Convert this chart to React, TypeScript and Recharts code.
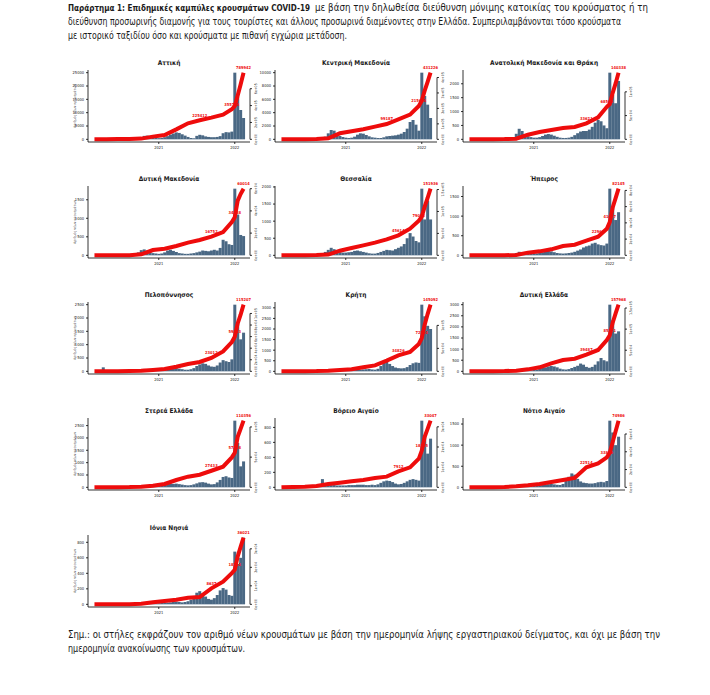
import React from "react";
import {
  ComposedChart, Bar, Line, XAxis, YAxis, LabelList,
} from "recharts";

// Fortnightly bins from 24 Feb 2020 to Feb 2022 (52 bins). Bar value = daily new cases
// for that fortnight; the red curve is the cumulative count,
// read at the bins listed in LINE_IDX.

const YEAR_TICKS = [22, 48];
const YEAR_LABELS: Record<number, string> = { 22: "2021", 48: "2022" };
const LINE_IDX = [0, 4, 8, 12, 16, 20, 24, 28, 32, 36, 40, 44, 47, 48, 49, 50, 51];

const BARS_ATTIKI = [0, 5, 25, 15, 8, 4, 3, 3, 5, 10, 25, 50, 100, 180,
  300, 450, 800, 1300, 1400, 900, 650, 500,
  450, 550, 800, 1200, 1800, 2200,
  2600, 2400, 1900, 1400, 900, 500,
  400, 1300, 1700, 1500, 1100, 900,
  800, 800, 900, 1200, 2300, 2700, 2600, 2900,
  25000, 16000, 11000, 8000];
const CUM_ATTIKI = [0, 1200, 3100, 4600, 8500, 32000, 51000, 118000, 190000, 225412, 257000, 292000, 355764, 395000, 520000, 650000, 789942];

const BARS_KMAK = [0, 2, 10, 8, 4, 2, 2, 3, 5, 8, 15, 30, 60, 110,
  200, 400, 900, 1400, 1300, 800, 500, 350,
  250, 200, 250, 400, 700, 900,
  850, 650, 450, 300, 250, 200,
  200, 300, 450, 500, 550, 600,
  700, 850, 1100, 1600, 2600, 2900, 2200, 1300,
  10000, 6500, 5200, 3200];
const CUM_KMAK = [0, 400, 900, 1700, 6500, 39000, 52000, 65000, 82000, 99187, 129000, 160000, 215604, 250000, 315000, 371000, 431226];

const BARS_AMTH = [0, 1, 3, 2, 1, 1, 1, 1, 2, 3, 5, 8, 15, 25,
  40, 80, 200, 380, 300, 180, 110, 80,
  60, 60, 80, 120, 170, 190,
  170, 130, 90, 60, 50, 50,
  60, 90, 150, 220, 280, 300,
  300, 350, 450, 600, 700, 650, 500, 400,
  2400, 1600, 1300, 2100];
const CUM_AMTH = [0, 140, 280, 560, 1400, 9800, 15400, 19600, 23800, 25900, 33621, 46200, 68540, 74200, 98000, 117600, 140338];

const BARS_DMAK = [0, 0, 2, 2, 1, 1, 0, 1, 1, 2, 3, 5, 10, 20,
  40, 80, 140, 160, 130, 90, 60, 50,
  40, 50, 80, 130, 150, 120,
  90, 60, 50, 40, 40, 50,
  60, 80, 100, 130, 120, 110,
  130, 150, 130, 200, 420, 380, 300, 280,
  1800, 1100, 550, 520];
const CUM_DMAK = [0, 60, 120, 180, 900, 4800, 6000, 8400, 11400, 13800, 16752, 21000, 30000, 34288, 49200, 55200, 60014];

const BARS_THES = [0, 1, 3, 2, 1, 1, 1, 1, 2, 4, 6, 10, 20, 35,
  60, 100, 160, 220, 180, 120, 90, 80,
  80, 90, 100, 130, 140, 120,
  100, 80, 60, 50, 50, 70,
  100, 130, 160, 150, 140, 180,
  220, 260, 330, 500, 650, 550, 420, 380,
  1950, 1050, 1600, 1050];
const CUM_THES = [0, 150, 300, 600, 1800, 10600, 16700, 22800, 28900, 36500, 45614, 60800, 79063, 88200, 111000, 130700, 151936];

const BARS_IPEI = [0, 0, 1, 1, 0, 0, 0, 0, 1, 2, 3, 5, 8, 12,
  20, 35, 60, 90, 80, 60, 50, 45,
  45, 50, 60, 80, 100, 110,
  100, 80, 60, 50, 45, 50,
  60, 70, 90, 120, 150, 200,
  230, 250, 300, 320, 280, 260, 250, 300,
  1700, 1250, 900, 1100];
const CUM_IPEI = [0, 0, 80, 160, 410, 3300, 4900, 7400, 11500, 13100, 18000, 22961, 32800, 41027, 59000, 70500, 82145];

const BARS_PELO = [0, 10, 40, 150, 20, 10, 5, 5, 8, 10, 15, 20, 25, 35,
  45, 60, 80, 90, 80, 70, 70, 80,
  90, 100, 120, 140, 150, 130,
  120, 100, 80, 60, 60, 80,
  120, 200, 260, 300, 280, 220,
  180, 170, 220, 330, 420, 380, 350, 450,
  2500, 1800, 1200, 1450];
const CUM_PELO = [0, 120, 350, 460, 920, 2300, 4000, 8000, 12700, 16100, 23012, 34500, 50600, 59843, 82800, 97800, 115207];

const BARS_KRIT = [0, 1, 3, 2, 1, 1, 0, 1, 2, 3, 5, 10, 15, 20,
  25, 30, 40, 50, 50, 45, 40, 40,
  40, 45, 50, 60, 70, 80,
  90, 100, 110, 90, 80, 120,
  250, 400, 450, 350, 250, 180,
  150, 140, 150, 200, 300, 380, 420, 400,
  3150, 2600, 2150, 2000];
const CUM_KRIT = [0, 150, 290, 580, 1450, 2900, 4350, 8700, 13000, 23200, 34826, 42000, 59500, 72514, 101500, 124700, 145092];

const BARS_DELL = [0, 1, 4, 3, 1, 1, 1, 1, 2, 3, 5, 8, 12, 18,
  30, 45, 70, 90, 80, 60, 50, 50,
  60, 80, 110, 150, 180, 220,
  240, 220, 180, 120, 90, 80,
  100, 150, 200, 250, 350, 300,
  200, 160, 200, 300, 450, 600, 500, 450,
  3000, 2300, 1700, 1800];
const CUM_DELL = [0, 160, 320, 630, 1600, 4700, 9500, 19000, 26900, 30000, 39487, 50600, 74300, 85371, 115300, 137500, 157968];

const BARS_STER = [0, 1, 3, 2, 1, 1, 1, 1, 2, 3, 5, 8, 12, 20,
  30, 40, 50, 60, 60, 50, 50, 60,
  80, 110, 140, 160, 150, 140,
  150, 130, 110, 90, 80, 90,
  120, 160, 200, 210, 190, 150,
  120, 130, 200, 300, 420, 450, 400, 380,
  2700, 1800, 850, 1050];
const CUM_STER = [0, 110, 220, 440, 1100, 2750, 5500, 12100, 17600, 20900, 27433, 34100, 49500, 57218, 83600, 96800, 110356];

const BARS_VAIG = [0, 1, 2, 2, 1, 1, 1, 2, 3, 4, 5, 8, 10, 15,
  110, 40, 30, 30, 30, 25, 25, 25,
  25, 30, 30, 30, 35, 35,
  35, 30, 30, 35, 30, 40,
  60, 80, 90, 85, 70, 50,
  40, 45, 60, 80, 100, 110, 100, 90,
  890, 700, 450, 650];
const CUM_VAIG = [0, 160, 330, 660, 1650, 2300, 3000, 3600, 4600, 5300, 7912, 9900, 14200, 18165, 25100, 29000, 33047];

const BARS_NAIG = [0, 2, 3, 2, 1, 1, 1, 2, 4, 6, 10, 15, 20, 25,
  30, 35, 40, 50, 45, 40, 35, 35,
  35, 40, 45, 55, 65, 75,
  80, 70, 60, 55, 80, 150,
  250, 330, 300, 200, 140, 110,
  100, 90, 90, 100, 120, 130, 120, 150,
  1580, 1300, 1000, 1200];
const CUM_NAIG = [0, 75, 225, 450, 1100, 2250, 3750, 6000, 8250, 10500, 22514, 27000, 33809, 39000, 51000, 63000, 74986];

const BARS_IONI = [0, 0, 1, 1, 0, 0, 0, 0, 1, 2, 3, 5, 6, 8,
  10, 12, 15, 20, 20, 18, 16, 15,
  15, 18, 20, 22, 25, 30,
  35, 30, 25, 30, 40, 60,
  100, 150, 170, 140, 100, 70,
  60, 80, 120, 180, 210, 190, 120, 110,
  680, 520, 600, 860];
const CUM_IONI = [0, 0, 40, 110, 360, 1080, 1800, 2500, 3600, 3950, 8637, 12200, 16900, 18714, 25900, 31000, 36021];

const L_25K = [0, 5000, 10000, 15000, 20000, 25000];
const L_10K = [0, 2000, 4000, 6000, 8000, 10000];
const L_3000 = [0, 500, 1000, 1500, 2000, 2500, 3000];
const L_2500 = [0, 500, 1000, 1500, 2000, 2500];
const L_2000 = [0, 500, 1000, 1500, 2000];
const L_1500 = [0, 500, 1000, 1500];
const L_800 = [0, 200, 400, 600, 800];

const R_ATTIKI = [0, 200000, 400000, 600000];
const R_KMAK = [0, 100000, 200000, 300000, 400000];
const R_100K = [0, 50000, 100000];
const R_150K = [0, 50000, 100000, 150000];
const R_60K = [0, 20000, 40000, 60000];
const R_80K = [0, 20000, 40000, 60000, 80000];
const R_PELO = [0, 20000, 40000, 60000, 80000, 100000];
const R_30K = [0, 10000, 20000, 30000];

const PANELS = [
  { title: "Αττική", bars: BARS_ATTIKI, cum: CUM_ATTIKI, left: L_25K, right: R_ATTIKI, marks: [36, 47, 51] },
  { title: "Κεντρική Μακεδονία", bars: BARS_KMAK, cum: CUM_KMAK, left: L_10K, right: R_KMAK, marks: [36, 47, 51] },
  { title: "Ανατολική Μακεδονία και Θράκη", bars: BARS_AMTH, cum: CUM_AMTH, left: L_2000, right: R_100K, marks: [40, 47, 51] },
  { title: "Δυτική Μακεδονία", bars: BARS_DMAK, cum: CUM_DMAK, left: L_1500, right: R_60K, marks: [40, 48, 51] },
  { title: "Θεσσαλία", bars: BARS_THES, cum: CUM_THES, left: L_2000, right: R_150K, marks: [40, 47, 51] },
  { title: "Ήπειρος", bars: BARS_IPEI, cum: CUM_IPEI, left: L_1500, right: R_80K, marks: [44, 48, 51] },
  { title: "Πελοπόννησος", bars: BARS_PELO, cum: CUM_PELO, left: L_2500, right: R_PELO, marks: [40, 48, 51] },
  { title: "Κρήτη", bars: BARS_KRIT, cum: CUM_KRIT, left: L_3000, right: R_100K, marks: [40, 48, 51] },
  { title: "Δυτική Ελλάδα", bars: BARS_DELL, cum: CUM_DELL, left: L_3000, right: R_150K, marks: [40, 48, 51] },
  { title: "Στερεά Ελλάδα", bars: BARS_STER, cum: CUM_STER, left: L_2500, right: R_100K, marks: [40, 48, 51] },
  { title: "Βόρειο Αιγαίο", bars: BARS_VAIG, cum: CUM_VAIG, left: L_800, right: R_30K, marks: [40, 48, 51] },
  { title: "Νότιο Αιγαίο", bars: BARS_NAIG, cum: CUM_NAIG, left: L_1500, right: R_60K, marks: [40, 47, 51] },
  { title: "Ιόνια Νησιά", bars: BARS_IONI, cum: CUM_IONI, left: L_800, right: R_30K, marks: [40, 48, 51] },
];

const COL_X = [88, 275, 463];
const ROW_Y = [70, 186, 302, 418, 535];
const PLOT_W = 162;
const PLOT_H = 72;
const M_LEFT = 32;
const M_RIGHT = 22;
const M_TOP = 16;
const M_BOTTOM = 14;
const R_TICK = 2;
const R_MARGIN = 2;

const BAR_COLOR = "#4a6884";
const RED = "#ee0c0c";
const FONT = "'Liberation Sans Narrow', 'DejaVu Sans Condensed', 'Liberation Sans', sans-serif";

const sci = (v: number) => {
  if (v === 0) return "0e+00";
  const e = Math.floor(Math.log10(v));
  const m = +(v / 10 ** e).toFixed(2);
  return `${m}e+${String(e).padStart(2, "0")}`;
};

// right-hand axis in base-R style: the line only runs from 0 up to the last tick
const makeRightTick = (F: number, top: number) => (props: any) => {
  const { x, y, payload } = props;
  const ax = x - R_TICK - R_MARGIN;
  const tx = x + 0.5;
  const drop = (top / (1.08 * F)) * PLOT_H;
  return (
    <g>
      <line x1={ax} x2={ax + R_TICK} y1={y} y2={y} stroke="#000" strokeWidth={0.8} />
      {payload.value === top && (
        <line x1={ax} x2={ax} y1={y} y2={y + drop} stroke="#000" strokeWidth={0.8} />
      )}
      <text x={tx} y={y} transform={`rotate(-90 ${tx} ${y})`} textAnchor="middle"
        dominantBaseline="hanging" fontSize={3.6} fill="#222" fontFamily={FONT}>
        {sci(payload.value)}
      </text>
    </g>
  );
};

function Panel({ p, col, row }: { p: (typeof PANELS)[number]; col: number; row: number }) {
  const data = p.bars.map((v, i) => {
    const k = LINE_IDX.indexOf(i);
    return { i, v, c: k >= 0 ? p.cum[k] : null };
  });
  const m = Math.max(...p.bars);
  const F = p.cum[p.cum.length - 1];
  const markValues = p.marks.map((b) => p.cum[LINE_IDX.indexOf(b)]);
  const rightTop = p.right[p.right.length - 1];
  const RightTick = makeRightTick(F, rightTop);

  return (
    <div style={{ position: "absolute", left: COL_X[col] - M_LEFT, top: ROW_Y[row] - M_TOP }}>
      <ComposedChart
        width={M_LEFT + PLOT_W + M_RIGHT} height={M_TOP + PLOT_H + M_BOTTOM} data={data}
        margin={{ top: M_TOP, right: 0, bottom: 0, left: 0 }} barCategoryGap={0} barGap={0}
      >
        <XAxis
          dataKey="i" type="category" ticks={YEAR_TICKS} interval={0}
          tickFormatter={(v) => YEAR_LABELS[v] ?? ""} padding={{ left: 5, right: 5 }}
          height={M_BOTTOM} tickSize={2} stroke="#000" strokeWidth={0.8}
          tick={{ fontSize: 4, fill: "#222", fontFamily: FONT }}
        />
        <YAxis
          yAxisId="l" type="number" domain={[-0.04 * m, 1.04 * m]} allowDataOverflow ticks={p.left}
          interval={0} width={M_LEFT} tickSize={2} stroke="#000" strokeWidth={0.8}
          tick={{ fontSize: 4, fill: "#222", fontFamily: FONT }}
        />
        <YAxis
          yAxisId="r" orientation="right" type="number" domain={[-0.04 * F, 1.04 * F]}
          allowDataOverflow ticks={p.right} interval={0} width={M_RIGHT}
          tickSize={R_TICK} tickMargin={R_MARGIN} axisLine={false} tickLine={false}
          tick={RightTick}
        />
        <Bar yAxisId="l" dataKey="v" fill={BAR_COLOR} isAnimationActive={false} />
        <Line
          yAxisId="r" dataKey="c" stroke={RED} strokeWidth={4} dot={false}
          connectNulls isAnimationActive={false}
        >
          <LabelList
            dataKey="c"
            content={(lp: any) => {
              const { x, y, value } = lp;
              if (value == null || !markValues.includes(value)) return null;
              return (
                <text x={x} y={y - 3.6} textAnchor="middle" fontSize={4} fontWeight="bold"
                  fill={RED} fontFamily={FONT}>
                  {value}
                </text>
              );
            }}
          />
        </Line>
      </ComposedChart>
    </div>
  );
}

export default function App() {
  return (
    <div style={{ position: "absolute", left: 0, top: 0, width: 710, height: 695, background: "#fff", fontFamily: FONT }}>
      {PANELS.map((p, k) => (
        <Panel key={p.title} p={p} col={k % 3} row={Math.floor(k / 3)} />
      ))}
      <svg width={710} height={695} style={{ position: "absolute", left: 0, top: 0, pointerEvents: "none" }}>
        <g fontFamily={FONT} fill="#1a1a1a">
          <text x={68} y={11} fontSize={8.2} fontWeight="bold" textLength={242} lengthAdjust="spacingAndGlyphs">
            Παράρτημα 1:  Επιδημικές καμπύλες κρουσμάτων COVID-19
          </text>
          <text x={315} y={11} fontSize={9.6} textLength={333} lengthAdjust="spacing">
            με βάση την δηλωθείσα διεύθυνση μόνιμης κατοικίας του κρούσματος ή τη
          </text>
          <text x={68} y={25} fontSize={9.6} textLength={553} lengthAdjust="spacingAndGlyphs">
            διεύθυνση προσωρινής διαμονής για τους τουρίστες και άλλους προσωρινά διαμένοντες στην Ελλάδα. Συμπεριλαμβάνονται τόσο κρούσματα
          </text>
          <text x={68} y={39} fontSize={9.6} textLength={279} lengthAdjust="spacingAndGlyphs">
            με ιστορικό ταξιδίου όσο και κρούσματα με πιθανή εγχώρια μετάδοση.
          </text>
          <text x={68} y={638} fontSize={9.6} textLength={592} lengthAdjust="spacingAndGlyphs">
            Σημ.: οι στήλες εκφράζουν τον αριθμό νέων κρουσμάτων με βάση την ημερομηνία λήψης εργαστηριακού δείγματος, και όχι με βάση την
          </text>
          <text x={68} y={652} fontSize={9.6} textLength={177} lengthAdjust="spacingAndGlyphs">
            ημερομηνία ανακοίνωσης των κρουσμάτων.
          </text>
          {PANELS.map((p, k) => {
            const x0 = COL_X[k % 3];
            const y0 = ROW_Y[Math.floor(k / 3)];
            return (
              <text key={p.title} x={x0 + PLOT_W / 2} y={y0 - 5} fontSize={6.5} fontWeight="bold" textAnchor="middle">
                {p.title}
              </text>
            );
          })}
          {ROW_Y.map((y0) => (
            <text key={y0} x={76} y={y0 + PLOT_H / 2} fontSize={3.6} textAnchor="middle" fill="#555"
              transform={`rotate(-90 76 ${y0 + PLOT_H / 2})`}>
              Αριθμός νέων κρουσμάτων
            </text>
          ))}
        </g>
      </svg>
    </div>
  );
}
